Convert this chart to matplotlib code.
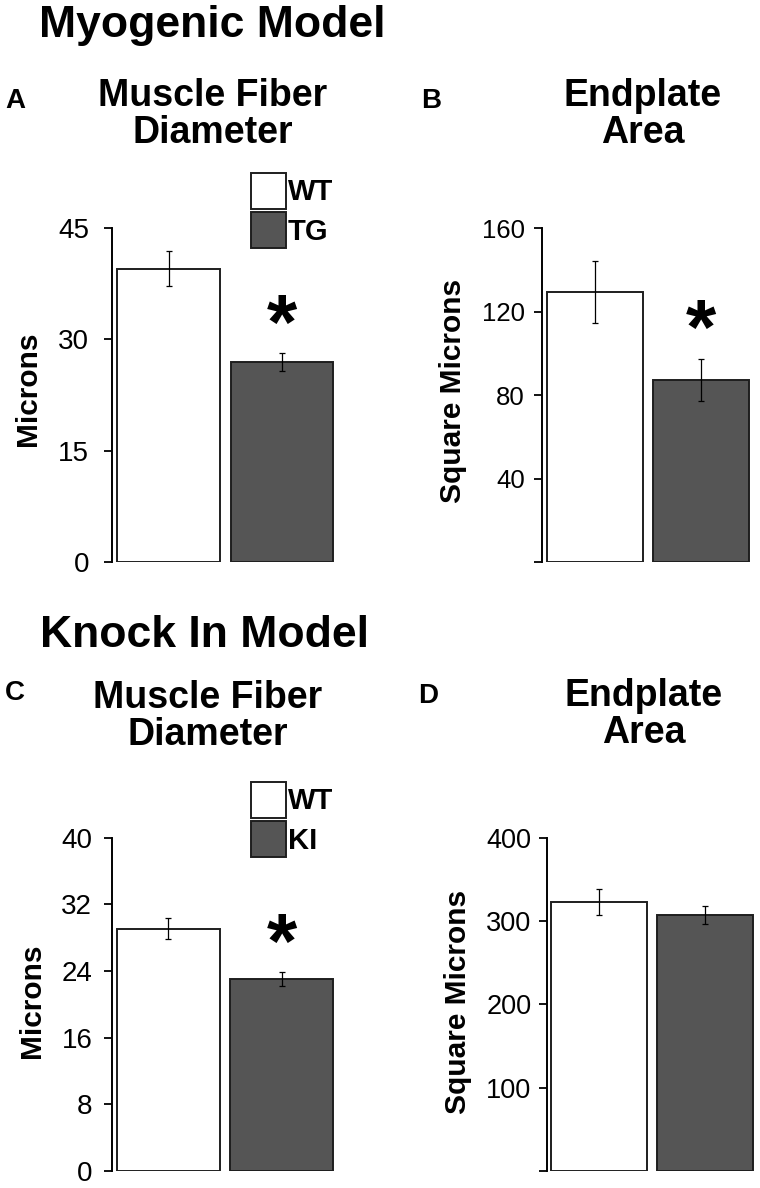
import matplotlib
matplotlib.use("Agg")
import matplotlib.pyplot as plt

plt.rcParams['font.family'] = ['Liberation Sans', 'DejaVu Sans']

# figure size in pixels (dpi 100)
W, H = 760, 1188

# data
groups_myo = ["WT", "TG"]
groups_ki = ["WT", "KI"]

fiber_myo = [39.5, 26.9]
fiber_myo_err = [2.4, 1.2]
endplate_myo = [129.5, 87.4]
endplate_myo_err = [15.0, 10.0]

fiber_ki = [29.1, 23.0]
fiber_ki_err = [1.3, 0.85]
endplate_ki = [323.0, 307.0]
endplate_ki_err = [16.0, 11.0]

ticks_a = [0, 15, 30, 45]
ticks_b = [0, 40, 80, 120, 160]
ticks_c = [0, 8, 16, 24, 32, 40]
ticks_d = [0, 100, 200, 300, 400]

bar_colors = ["white", "#555555"]
edge = "#1e1e1e"

fig = plt.figure(figsize=(W / 100, H / 100), dpi=100)


def px_axes(left, top, right, bottom):
    return fig.add_axes([left / W, 1 - bottom / H, (right - left) / W, (bottom - top) / H])


def fx(x):
    return x / W


def fy(y):
    return 1 - y / H


def panel(ax, vals, errs, ticks, labels, bw, pad, lsize, star):
    ax.bar([0, 1], vals, width=bw, color=bar_colors, edgecolor=edge, linewidth=1.4,
           yerr=errs, error_kw=dict(ecolor="black", elinewidth=0.9, capsize=2.4, capthick=0.9),
           label=labels)
    ax.set_xlim(-0.5, 1.5)
    ax.set_ylim(ticks[0], ticks[-1])
    ax.set_yticks(ticks)
    ax.set_xticks([])
    for s in ["top", "right", "bottom"]:
        ax.spines[s].set_visible(False)
    ax.spines["left"].set_linewidth(1.4)
    ax.tick_params(axis="y", length=6, width=1.3, labelsize=lsize, pad=pad, colors="black")
    if star:
        ax.annotate("*", xy=(1, vals[1] + errs[1]), xytext=(0, 18), textcoords="offset points",
                    ha="center", va="center", fontsize=56, fontweight="bold")


# panel A
axA = px_axes(112, 227.7, 338.6, 562.3)
panel(axA, fiber_myo, fiber_myo_err, ticks_a, groups_myo, 0.906, 10.5, 20, True)

# panel B
axB = px_axes(542.3, 228.3, 753.3, 562)
panel(axB, endplate_myo, endplate_myo_err, ticks_b, groups_myo, 0.91, 6.5, 18.5, True)
axB.set_yticklabels([""] + [str(t) for t in ticks_b[1:]])

# panel C
axC = px_axes(111.7, 837.7, 338.3, 1171)
panel(axC, fiber_ki, fiber_ki_err, ticks_c, groups_ki, 0.906, 8, 20, True)

# panel D
axD = px_axes(546.7, 837.7, 757.7, 1171)
panel(axD, endplate_ki, endplate_ki_err, ticks_d, groups_ki, 0.91, 5, 19.5, False)
axD.set_yticklabels([""] + [str(t) for t in ticks_d[1:]])

# legends
for ax, top in [(axA, 172.7), (axC, 781.7)]:
    ax.legend(loc="upper left", bbox_to_anchor=(fx(250.7), fy(top)), bbox_transform=fig.transFigure,
              frameon=False, borderpad=0, borderaxespad=0, handlelength=1.21, handleheight=1.52,
              labelspacing=0.12, handletextpad=0.06, prop=dict(size=21, weight="bold"))

# y labels
ylab = dict(rotation=90, ha="center", va="center", fontsize=21.5, fontweight="bold")
fig.text(fx(27.5), fy(389), "Microns", **ylab)
fig.text(fx(452.5), fy(391), "Square Microns", **ylab)
fig.text(fx(32.5), fy(1001), "Microns", **ylab)
fig.text(fx(458.3), fy(1001.7), "Square Microns", **ylab)

# section headings
fig.text(fx(212), fy(37), "Myogenic Model", ha="center", va="baseline", fontsize=32, fontweight="bold")
fig.text(fx(204), fy(647), "Knock In Model", ha="center", va="baseline", fontsize=32, fontweight="bold")

# panel titles
ttl = dict(ha="center", va="top", fontsize=27, fontweight="bold", linespacing=1.05)
fig.text(fx(213), fy(78), "Muscle Fiber\nDiameter", **ttl)
fig.text(fx(643), fy(78), "Endplate\nArea", **ttl)
fig.text(fx(208), fy(680), "Muscle Fiber\nDiameter", **ttl)
fig.text(fx(644), fy(678), "Endplate\nArea", **ttl)

# panel letters
let = dict(ha="left", va="baseline", fontsize=20, fontweight="bold")
fig.text(fx(5), fy(108), "A", **let)
fig.text(fx(421), fy(108), "B", **let)
fig.text(fx(5), fy(700), "C", **let)
fig.text(fx(418), fy(703), "D", **let)

fig.savefig("out.png", dpi=100)
